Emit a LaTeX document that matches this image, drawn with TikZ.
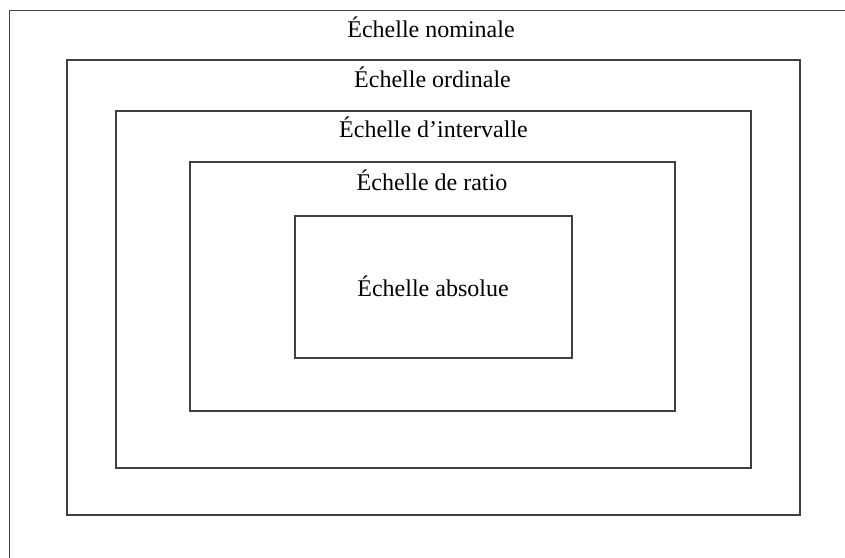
\documentclass[tikz,border=0pt]{standalone}
\usepackage{fontspec}
\setmainfont{Liberation Serif}
\begin{document}
\begin{tikzpicture}[x=0.75pt,y=-0.75pt,
  box/.style={draw=black!75, line width=0.8pt},
  lbl/.style={font=\fontsize{18}{21}\selectfont, anchor=base, inner sep=0pt}]
\useasboundingbox (0,0) rectangle (845,557);
\clip (0,0) rectangle (845,557);
\fill[white] (0,0) rectangle (845,557);
% boxes
\draw[box] (9.5,10.5) rectangle (900,620);
\draw[box] (67,60) rectangle (800,515);
\draw[box] (116,111) rectangle (751,468);
\draw[box] (190,162) rectangle (675,411);
\draw[box] (295,216) rectangle (572,358);
% labels
\node[lbl] (nominale) at (431,37.5) {Échelle nominale};
\node[lbl] (ordinale) at (432.5,87) {Échelle ordinale};
\node[lbl] (intervalle) at (433.5,137.5) {Échelle d’intervalle};
\node[lbl] (ratio) at (432,190.5) {Échelle de ratio};
\node[lbl] (absolue) at (433,296) {Échelle absolue};
\end{tikzpicture}
\end{document}
